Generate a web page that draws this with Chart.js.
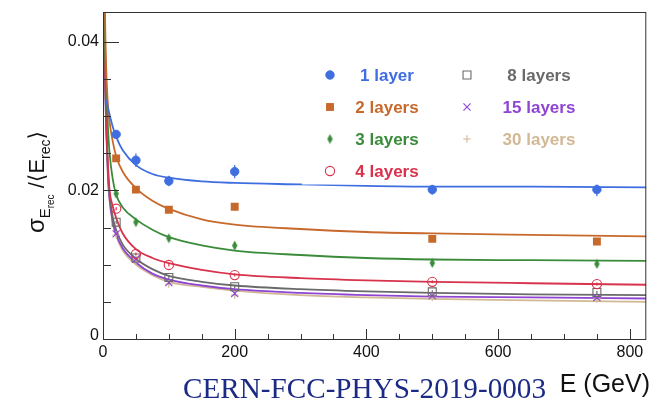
<!DOCTYPE html>
<html>
<head>
<meta charset="utf-8">
<script src="https://cdn.jsdelivr.net/npm/chart.js@4.4.1/dist/chart.umd.min.js"></script>
<style>
  html, body { margin: 0; padding: 0; background: #ffffff; }
  #wrap { width: 653px; height: 403px; }
</style>
</head>
<body>
<div id="wrap"><canvas id="c" width="653" height="403"></canvas></div>
<script>
// Beam energies of the measured points (GeV)
const energies = [20, 50, 100, 200, 500, 750];

// Relative resolution sigma/<E> for each longitudinal segmentation
const layers1  = [0.02753, 0.02405, 0.02126, 0.02252, 0.0201, 0.0201];
const layers2  = [0.0243, 0.0201, 0.0174, 0.0178, 0.01347, 0.01311];
const layers3  = [0.01955, 0.01572, 0.01356, 0.01257, 0.01023, 0.0101];
const layers4  = [0.01753, 0.01144, 0.00996, 0.0086, 0.0077, 0.00739];
const layers8  = [0.01572, 0.0109, 0.00829, 0.00703, 0.00635, 0.00626];
const layers15 = [0.01415, 0.01077, 0.0076, 0.00612, 0.00581, 0.00558];
const layers30 = [0.0140, 0.0106, 0.0074, 0.0059, 0.0056, 0.0054];

// Statistical uncertainties on the points
const err1  = [0.0006, 0.0009, 0.0007, 0.0009, 0.0007, 0.0009];
const err2  = [0.0005, 0.0005, 0.0004, 0.0005, 0.0004, 0.0003];
const err3  = [0.0004, 0.0004, 0.0004, 0.0004, 0.0004, 0.0004];
const err4  = [0.0002, 0.0002, 0.0002, 0.0002, 0.0002, 0.0002];
const err8  = [0.0002, 0.0002, 0.0002, 0.0002, 0.0002, 0.0002];
const err15 = [0.0002, 0.0002, 0.0002, 0.0002, 0.0002, 0.0002];
const err30 = [0.0002, 0.0002, 0.0002, 0.0002, 0.0002, 0.0002];

// Fitted resolution curves, sampled along the energy axis
const fitEnergies = [2, 3, 5, 7.5, 10, 15, 20, 30, 50, 75, 100, 150, 200, 300, 400, 500, 650, 825];
const fit1  = [null, null, 0.0322, 0.0311, 0.0302, 0.0285, 0.0272, 0.0254, 0.0234, 0.0222, 0.0217, 0.0212, 0.0210, 0.0208, 0.0206, 0.0205, 0.0205, 0.0204];
const fit2  = [0.052, 0.044, 0.036, 0.0315, 0.0292, 0.0265, 0.0246, 0.0225, 0.0203, 0.0186, 0.0175, 0.0161, 0.0154, 0.0148, 0.0144, 0.0142, 0.0140, 0.0138];
const fit3  = [0.046, 0.040, 0.034, 0.0285, 0.0250, 0.0214, 0.0194, 0.0177, 0.0161, 0.0147, 0.0137, 0.0126, 0.0119, 0.0113, 0.0109, 0.0107, 0.0106, 0.0105];
const fit4  = [0.044, 0.038, 0.029, 0.0235, 0.0200, 0.0178, 0.0163, 0.0142, 0.0121, 0.0109, 0.0102, 0.0093, 0.0087, 0.0082, 0.0079, 0.0077, 0.0075, 0.0073];
const fit8  = [0.040, 0.036, 0.029, 0.0225, 0.0193, 0.0163, 0.0147, 0.0127, 0.0108, 0.0094, 0.0085, 0.0077, 0.0072, 0.0067, 0.0064, 0.0062, 0.0060, 0.0059];
const fit15 = [0.039, 0.035, 0.028, 0.0220, 0.0188, 0.0157, 0.0141, 0.0122, 0.0103, 0.0088, 0.0080, 0.0072, 0.0067, 0.0062, 0.0059, 0.0057, 0.0056, 0.00545];
const fit30 = [0.039, 0.035, 0.0278, 0.0218, 0.0186, 0.0155, 0.0139, 0.0119, 0.0100, 0.0086, 0.0077, 0.0070, 0.0065, 0.0059, 0.0056, 0.0054, 0.0052, 0.0050];

const seriesNames = ['1 layer', '2 layers', '3 layers', '4 layers', '8 layers', '15 layers', '30 layers'];

// Axis ticks
const xTickLabels = ['0', '200', '400', '600', '800'];
const xTickValues = [0, 200, 400, 600, 800];
const yTickLabels = ['0', '0.02', '0.04'];
const yTickValues = [0, 0.02, 0.04];
const X_MAX = 825, Y_MAX = 0.044;
const X_MINOR = 50, Y_MINOR = 0.005;

const colors = ['#3f6ee0', '#c8692c', '#3a8c3a', '#d8324c', '#6a6a6a', '#8f45d2', '#d2b894'];

// elongated filled diamond marker
function diamond(color) {
  const c = document.createElement('canvas');
  c.width = 7; c.height = 11;
  const g = c.getContext('2d');
  g.fillStyle = color;
  g.beginPath();
  g.moveTo(3.5, 0.5); g.lineTo(6.2, 5.5); g.lineTo(3.5, 10.5); g.lineTo(0.8, 5.5);
  g.closePath(); g.fill();
  return c;
}

const markers = [
  { pointStyle: 'circle', radius: 4.2, fill: true, borderWidth: 1 },
  { pointStyle: 'rect', radius: 5.6, fill: true, borderWidth: 0 },
  { pointStyle: diamond(colors[2]), radius: 5, fill: true, borderWidth: 0 },
  { pointStyle: 'circle', radius: 4.6, fill: false, borderWidth: 1.1 },
  { pointStyle: 'rect', radius: 5.6, fill: false, borderWidth: 1.1 },
  { pointStyle: 'crossRot', radius: 5, fill: false, borderWidth: 1.1 },
  { pointStyle: 'cross', radius: 3.8, fill: false, borderWidth: 1.1 }
];

const pointSeries = [layers1, layers2, layers3, layers4, layers8, layers15, layers30];
const errSeries = [err1, err2, err3, err4, err8, err15, err30];
const fitSeries = [fit1, fit2, fit3, fit4, fit8, fit15, fit30];

const datasets = [];
pointSeries.forEach((vals, i) => {
  const m = markers[i];
  datasets.push({
    type: 'scatter',
    label: seriesNames[i],
    data: energies.map((e, j) => ({ x: e, y: vals[j] })),
    errors: errSeries[i],
    pointStyle: m.pointStyle,
    pointRadius: m.radius,
    pointBorderWidth: m.borderWidth,
    pointBackgroundColor: m.fill ? colors[i] : 'rgba(0,0,0,0)',
    pointBorderColor: colors[i],
    showLine: false,
    clip: 0
  });
});
fitSeries.forEach((vals, i) => {
  datasets.push({
    type: 'line',
    label: seriesNames[i] + ' fit',
    data: fitEnergies.map((e, j) => ({ x: e, y: vals[j] })).filter(p => p.y !== null),
    borderColor: colors[i],
    borderWidth: 1.8,
    pointRadius: 0,
    cubicInterpolationMode: 'monotone',
    fill: false,
    clip: 0
  });
});

// vertical error bars, drawn under each marker set
const errorBars = {
  id: 'errorBars',
  beforeDatasetDraw(chart, args) {
    const ds = chart.data.datasets[args.index];
    if (!ds.errors) return;
    const { ctx } = chart;
    const y = chart.scales.y;
    ctx.save();
    ctx.strokeStyle = ds.pointBorderColor;
    ctx.lineWidth = 1.2;
    args.meta.data.forEach((pt, j) => {
      const v = ds.data[j].y, e = ds.errors[j];
      ctx.beginPath();
      ctx.moveTo(pt.x, y.getPixelForValue(v - e));
      ctx.lineTo(pt.x, y.getPixelForValue(v + e));
      ctx.stroke();
    });
    ctx.restore();
  }
};

// legend panel with its own white fill
const legendPanel = {
  id: 'legendPanel',
  afterDatasetsDraw(chart) {
    const { ctx, chartArea: a } = chart;
    ctx.save();
    ctx.fillStyle = '#ffffff';
    ctx.fillRect(302, a.top + 1, a.right - 302 - 1, 184.5 - a.top - 1);
    const rows = [75, 107, 139, 171];
    const cols = [{ mx: 330, tx: 387 }, { mx: 467, tx: 539 }];
    ctx.font = 'bold 17px "Liberation Sans", Arial, sans-serif';
    ctx.textAlign = 'center';
    ctx.textBaseline = 'middle';
    seriesNames.forEach((name, i) => {
      const col = cols[i < 4 ? 0 : 1];
      const ry = rows[i < 4 ? i : i - 4];
      const m = markers[i];
      ctx.fillStyle = m.fill ? colors[i] : 'rgba(0,0,0,0)';
      ctx.strokeStyle = colors[i];
      ctx.lineWidth = m.borderWidth || 1;
      Chart.helpers.drawPoint(ctx, { pointStyle: m.pointStyle, radius: m.radius, rotation: 0, borderWidth: m.borderWidth }, col.mx, ry);
      ctx.fillStyle = colors[i];
      ctx.fillText(name, col.tx, ry + 1);
    });
    ctx.restore();
  }
};

// ROOT-style frame with inward ticks and axis titles
const axesFrame = {
  id: 'axesFrame',
  afterDraw(chart) {
    const { ctx, chartArea: a, scales: { x, y } } = chart;
    ctx.save();
    ctx.strokeStyle = '#333333';
    ctx.lineWidth = 1;
    ctx.strokeRect(a.left + 0.5, a.top + 0.5, a.right - a.left - 1, a.bottom - a.top);

    ctx.beginPath();
    for (let v = 0; v <= X_MAX + 1e-9; v += X_MINOR) {
      const px = Math.round(x.getPixelForValue(v)) + 0.5;
      const len = (Math.round(v) % 200 === 0) ? 10 : 5;
      ctx.moveTo(px, a.bottom);
      ctx.lineTo(px, a.bottom - len);
    }
    for (let k = 0; k * Y_MINOR <= Y_MAX + 1e-9; k++) {
      const v = k * Y_MINOR;
      const py = Math.round(y.getPixelForValue(v)) + 0.5;
      const len = (k % 4 === 0) ? 16 : 8;
      ctx.moveTo(a.left, py);
      ctx.lineTo(a.left + len, py);
    }
    ctx.stroke();

    ctx.fillStyle = '#111111';
    ctx.font = '16px "Liberation Sans", Arial, sans-serif';
    ctx.textAlign = 'center';
    ctx.textBaseline = 'middle';
    xTickLabels.forEach((t, i) => {
      ctx.fillText(t, x.getPixelForValue(xTickValues[i]), a.bottom + 14);
    });
    ctx.textAlign = 'right';
    yTickLabels.forEach((t, i) => {
      const py = y.getPixelForValue(yTickValues[i]);
      ctx.fillText(t, a.left - 4, i === 0 ? py - 3 : py);
    });

    // x title
    ctx.font = '25px "Liberation Sans", Arial, sans-serif';
    ctx.textAlign = 'right';
    ctx.textBaseline = 'alphabetic';
    ctx.fillText('E (GeV)', 650, 392);

    // report number
    ctx.fillStyle = '#1b2a85';
    ctx.font = '29px "Liberation Serif", "Times New Roman", serif';
    ctx.textAlign = 'left';
    const rep = 'CERN-FCC-PHYS-2019-0003';
    const w = ctx.measureText(rep).width;
    ctx.save();
    ctx.translate(183, 398);
    ctx.scale(363 / w, 1);
    ctx.fillText(rep, 0, 0);
    ctx.restore();

    // y title: sigma_{E_rec} / <E_rec>
    ctx.fillStyle = '#111111';
    const pieces = [
      { t: 'σ', f: 24, dy: 0 },
      { t: 'E', f: 15, dy: 6 },
      { t: 'rec', f: 10, dy: 10 },
      { t: ' /', f: 22, dy: 0 },
      { t: '⟨', f: 22, dy: 0 },
      { t: 'E', f: 22, dy: 0 },
      { t: 'rec', f: 14, dy: 6 },
      { t: '⟩', f: 22, dy: 0 }
    ];
    let total = 0;
    pieces.forEach(p => {
      ctx.font = p.f + 'px "Liberation Sans", "DejaVu Sans", sans-serif';
      p.w = ctx.measureText(p.t).width;
      total += p.w;
    });
    ctx.translate(44, 182);
    ctx.rotate(-Math.PI / 2);
    let u = -total / 2;
    pieces.forEach(p => {
      ctx.font = p.f + 'px "Liberation Sans", "DejaVu Sans", sans-serif';
      ctx.fillText(p.t, u, p.dy);
      u += p.w;
    });
    ctx.restore();
  }
};

new Chart(document.getElementById('c'), {
  data: { datasets },
  options: {
    responsive: false,
    animation: false,
    layout: { padding: { left: 103, right: 4, top: 12, bottom: 64 } },
    plugins: { legend: { display: false }, tooltip: { enabled: false } },
    scales: {
      x: { type: 'linear', min: 0, max: X_MAX, display: false },
      y: { type: 'linear', min: 0, max: Y_MAX, display: false }
    }
  },
  plugins: [errorBars, legendPanel, axesFrame]
});
</script>
</body>
</html>
